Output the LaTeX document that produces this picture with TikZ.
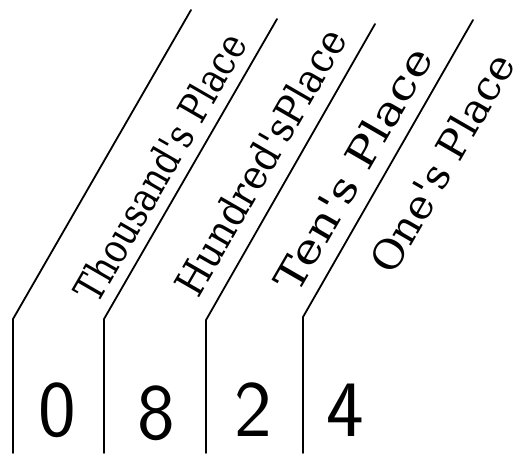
\documentclass[tikz,border=0pt]{standalone}
\usepackage{graphicx}
\usepackage{fontspec}
\newfontfamily\labelfont{DejaVu Serif}
\begin{document}
\begin{tikzpicture}[x=1pt,y=-1pt,
  colline/.style={line width=1.8pt, line join=round, line cap=round},
  placelabel/.style={rotate=60, inner sep=0pt, font=\labelfont},
  digit/.style={inner sep=0pt, font=\sffamily\fontsize{80}{80}\selectfont}]
\useasboundingbox (0,0) rectangle (518,453);
% column boundaries
\coordinate (b1) at (13,453);  \coordinate (k1) at (13,319);  \coordinate (t1) at (191,10);
\coordinate (b2) at (104,453); \coordinate (k2) at (104,319); \coordinate (t2) at (277,19);
\coordinate (b3) at (206,453); \coordinate (k3) at (206,320); \coordinate (t3) at (375,24);
\coordinate (b4) at (303,453); \coordinate (k4) at (303,317); \coordinate (t4) at (473,20);
\draw[colline] (b1) -- (k1) -- (t1);
\draw[colline] (b2) -- (k2) -- (t2);
\draw[colline] (b3) -- (k3) -- (t3);
\draw[colline] (b4) -- (k4) -- (t4);
% place labels
\node[placelabel] (thousands) at (160,167) {\resizebox{302pt}{31pt}{Thousand's Place}};
\node[placelabel] (hundreds) at (260,162) {\resizebox{300pt}{31pt}{Hundred'sPlace}};
\node[placelabel] (tens) at (353,169) {\resizebox{274pt}{31pt}{Ten's Place}};
\node[placelabel] (ones) at (442,163) {\resizebox{245pt}{31pt}{One's Place}};
% digits
\node[digit] (d0) at (57,410) {0};
\node[digit] (d8) at (156,413) {8};
\node[digit] (d2) at (253,410) {2};
\node[digit] (d4) at (345,410) {4};
\end{tikzpicture}
\end{document}
